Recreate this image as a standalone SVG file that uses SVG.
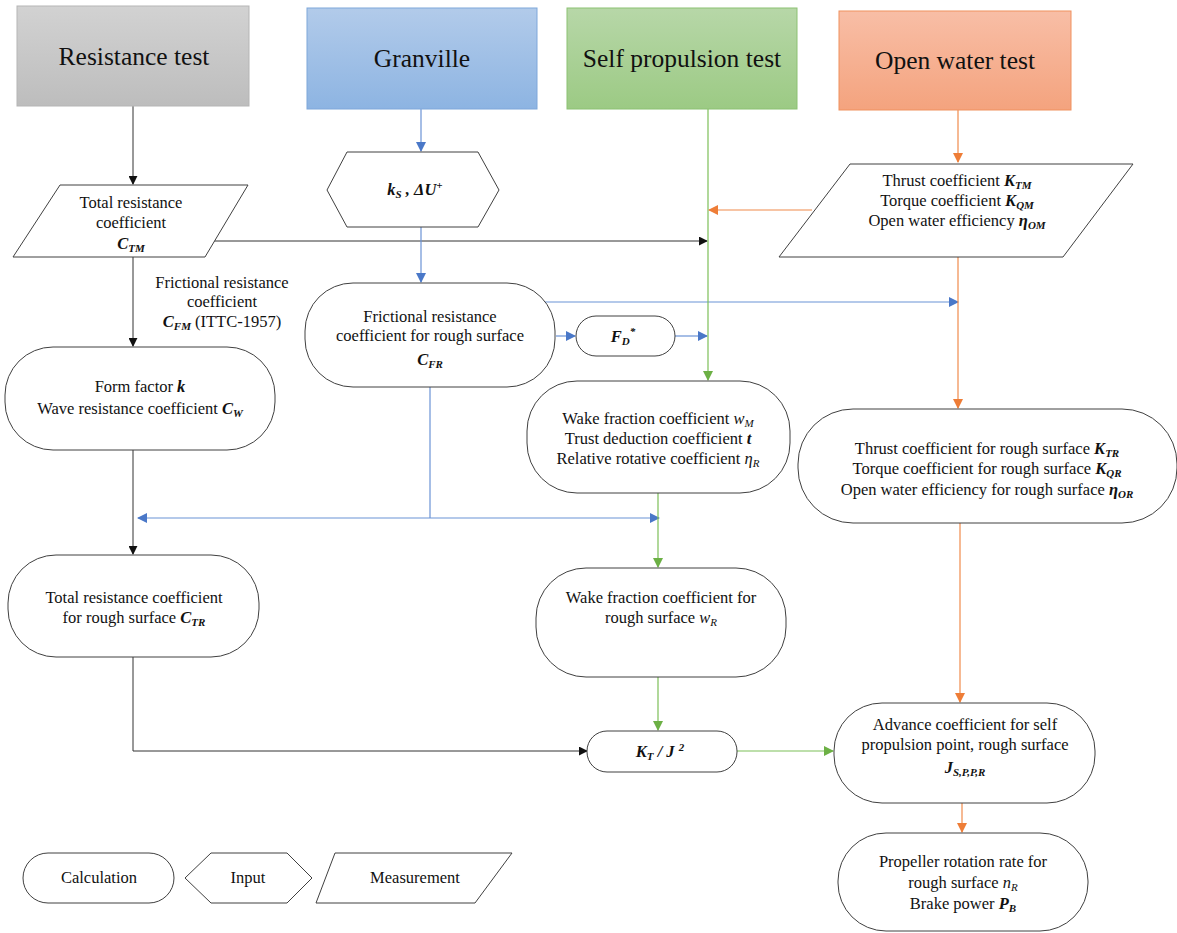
<svg xmlns="http://www.w3.org/2000/svg" width="1177" height="933" viewBox="0 0 1177 933">
<style>
text{font-family:"Liberation Serif","Times New Roman",serif;font-size:16.5px;fill:#111;text-anchor:middle}
.hd{font-size:25.5px}
.node{fill:#fff;stroke:#404040;stroke-width:1}
.m{font-style:italic;font-weight:bold}
.i{font-style:italic}
.s{font-size:11px}
.ck{stroke:#333;stroke-width:1;fill:none}
.cb{stroke:#6b93d6;stroke-width:1.2;fill:none}
.cg{stroke:#7cbf58;stroke-width:1.2;fill:none}
.co{stroke:#f08a4b;stroke-width:1.2;fill:none}
</style>
<defs>
<linearGradient id="gGray" x1="0" y1="0" x2="0" y2="1"><stop offset="0" stop-color="#d2d2d2"/><stop offset="1" stop-color="#bdbdbd"/></linearGradient>
<linearGradient id="gBlue" x1="0" y1="0" x2="0" y2="1"><stop offset="0" stop-color="#b2cbea"/><stop offset="1" stop-color="#8db4e2"/></linearGradient>
<linearGradient id="gGreen" x1="0" y1="0" x2="0" y2="1"><stop offset="0" stop-color="#b7d7a8"/><stop offset="1" stop-color="#9cca84"/></linearGradient>
<linearGradient id="gOrange" x1="0" y1="0" x2="0" y2="1"><stop offset="0" stop-color="#f8bea6"/><stop offset="1" stop-color="#f4a37e"/></linearGradient>
<marker id="ak" viewBox="0 0 10 10" refX="9" refY="5" markerWidth="9" markerHeight="9" orient="auto" markerUnits="userSpaceOnUse"><path d="M0,0 L10,5 L0,10 z" fill="#111"/></marker>
<marker id="ab" viewBox="0 0 10 10" refX="9" refY="5" markerWidth="10" markerHeight="10" orient="auto-start-reverse" markerUnits="userSpaceOnUse"><path d="M0,0 L10,5 L0,10 z" fill="#4a78c8"/></marker>
<marker id="ag" viewBox="0 0 10 10" refX="9" refY="5" markerWidth="10" markerHeight="10" orient="auto" markerUnits="userSpaceOnUse"><path d="M0,0 L10,5 L0,10 z" fill="#6cb045"/></marker>
<marker id="ao" viewBox="0 0 10 10" refX="9" refY="5" markerWidth="10" markerHeight="10" orient="auto" markerUnits="userSpaceOnUse"><path d="M0,0 L10,5 L0,10 z" fill="#ee7d37"/></marker>
</defs>

<g id="connectors">
<path class="ck" d="M133,106 V184" marker-end="url(#ak)"/>
<path class="ck" d="M214,241 H707" marker-end="url(#ak)"/>
<path class="ck" d="M133,257 V346" marker-end="url(#ak)"/>
<path class="ck" d="M133,450 V554" marker-end="url(#ak)"/>
<path class="ck" d="M133,657 V751 H587" marker-end="url(#ak)"/>
<path class="cb" d="M421,109 V151" marker-end="url(#ab)"/>
<path class="cb" d="M421,227 V282" marker-end="url(#ab)"/>
<path class="cb" d="M543,302 H958" marker-end="url(#ab)"/>
<path class="cb" d="M556,336 H575" marker-end="url(#ab)"/>
<path class="cb" d="M675,336 H707" marker-end="url(#ab)"/>
<path class="cb" d="M430,387 V518"/>
<path class="cb" d="M138,518 H659" marker-start="url(#ab)" marker-end="url(#ab)"/>
<path class="cg" d="M708,109 V380" marker-end="url(#ag)"/>
<path class="cg" d="M658,493 V567" marker-end="url(#ag)"/>
<path class="cg" d="M658,677 V730" marker-end="url(#ag)"/>
<path class="cg" d="M737,751 H833" marker-end="url(#ag)"/>
<path class="co" d="M958,110 V162" marker-end="url(#ao)"/>
<path class="co" d="M812,210 H709" marker-end="url(#ao)"/>
<path class="co" d="M958,257 V408" marker-end="url(#ao)"/>
<path class="co" d="M960,523 V702" marker-end="url(#ao)"/>
<path class="co" d="M962,803 V832" marker-end="url(#ao)"/>
</g>

<g id="h-resistance">
<rect x="17" y="6" width="232" height="100" fill="url(#gGray)" stroke="#b5b5b5"/>
<text class="hd" x="134" y="65">Resistance test</text>
</g>
<g id="h-granville">
<rect x="307" y="8" width="230" height="101" fill="url(#gBlue)" stroke="#7ea7da"/>
<text class="hd" x="422" y="67">Granville</text>
</g>
<g id="h-selfprop">
<rect x="567" y="8" width="230" height="101" fill="url(#gGreen)" stroke="#8cc173"/>
<text class="hd" x="682" y="67">Self propulsion test</text>
</g>
<g id="h-openwater">
<rect x="839" y="11" width="232" height="99" fill="url(#gOrange)" stroke="#f0915f"/>
<text class="hd" x="955" y="69">Open water test</text>
</g>

<g id="n-ctm">
<polygon class="node" points="60,185 248,185 205,257 13,257"/>
<text x="131" y="208">Total resistance</text>
<text x="131" y="228">coefficient</text>
<text x="131" y="249"><tspan class="m">C</tspan><tspan class="m s" dy="3">TM</tspan></text>
</g>

<g id="l-cfm">
<text x="222" y="288">Frictional resistance</text>
<text x="222" y="307">coefficient</text>
<text x="222" y="327"><tspan class="m">C</tspan><tspan class="m s" dy="3">FM</tspan><tspan dy="-3">  (ITTC-1957)</tspan></text>
</g>

<g id="n-formfactor">
<rect class="node" x="5" y="347" width="270" height="103" rx="48"/>
<text x="140" y="392">Form factor <tspan class="m">k</tspan></text>
<text x="140" y="414">Wave resistance coefficient <tspan class="m">C</tspan><tspan class="m s" dy="3">W</tspan></text>
</g>

<g id="n-ctr">
<rect class="node" x="8" y="555" width="251" height="102" rx="48"/>
<text x="134" y="603">Total resistance coefficient</text>
<text x="134" y="623">for rough surface <tspan class="m">C</tspan><tspan class="m s" dy="3">TR</tspan></text>
</g>

<g id="n-ks">
<polygon class="node" points="327,190 347,152 478,152 499,190 478,227 347,227"/>
<text x="415" y="195"><tspan class="m">k</tspan><tspan class="m s" dy="3">S</tspan><tspan class="m" dy="-3"> , ΔU</tspan><tspan class="m s" dy="-6">+</tspan></text>
</g>

<g id="n-cfr">
<rect class="node" x="305" y="283" width="250" height="104" rx="48"/>
<text x="430" y="322">Frictional resistance</text>
<text x="430" y="341">coefficient for rough surface</text>
<text x="430" y="365"><tspan class="m">C</tspan><tspan class="m s" dy="3">FR</tspan></text>
</g>

<g id="n-fd">
<rect class="node" x="576" y="316" width="99" height="40" rx="20"/>
<text x="623" y="342"><tspan class="m">F</tspan><tspan class="m s" dy="3">D</tspan><tspan class="m s" dy="-10">*</tspan></text>
</g>

<g id="n-wake">
<rect class="node" x="527" y="381" width="263" height="112" rx="50"/>
<text x="658" y="424">Wake fraction coefficient <tspan class="i">w</tspan><tspan class="i s" dy="3">M</tspan></text>
<text x="658" y="444">Trust deduction coefficient <tspan class="m">t</tspan></text>
<text x="658" y="464">Relative rotative coefficient <tspan class="i">η</tspan><tspan class="i s" dy="3">R</tspan></text>
</g>

<g id="n-wr">
<rect class="node" x="536" y="568" width="250" height="109" rx="50"/>
<text x="661" y="603">Wake fraction coefficient for</text>
<text x="661" y="623">rough surface <tspan class="i">w</tspan><tspan class="i s" dy="3">R</tspan></text>
</g>

<g id="n-kt">
<rect class="node" x="587" y="731" width="150" height="41" rx="20"/>
<text x="660" y="757"><tspan class="m">K</tspan><tspan class="m s" dy="3">T</tspan><tspan class="m" dy="-3"> / J </tspan><tspan class="m s" dy="-6">2</tspan></text>
</g>

<g id="n-ktm">
<polygon class="node" points="850,164 1133,164 1063,257 779,257"/>
<text x="957" y="186">Thrust coefficient <tspan class="m">K</tspan><tspan class="m s" dy="3">TM</tspan></text>
<text x="957" y="206">Torque coefficient <tspan class="m">K</tspan><tspan class="m s" dy="3">QM</tspan></text>
<text x="957" y="226">Open water efficiency <tspan class="m">η</tspan><tspan class="m s" dy="3">OM</tspan></text>
</g>

<g id="n-ktr">
<rect class="node" x="798" y="409" width="379" height="114" rx="55"/>
<text x="987" y="454">Thrust coefficient for rough surface <tspan class="m">K</tspan><tspan class="m s" dy="3">TR</tspan></text>
<text x="987" y="474">Torque coefficient for rough surface <tspan class="m">K</tspan><tspan class="m s" dy="3">QR</tspan></text>
<text x="987" y="495">Open water efficiency for rough surface <tspan class="m">η</tspan><tspan class="m s" dy="3">OR</tspan></text>
</g>

<g id="n-advance">
<rect class="node" x="834" y="703" width="261" height="100" rx="48"/>
<text x="965" y="730">Advance coefficient for self</text>
<text x="965" y="750">propulsion point, rough surface</text>
<text x="965" y="773"><tspan class="m">J</tspan><tspan class="m s" dy="3">S,P,P,R</tspan></text>
</g>

<g id="n-propeller">
<rect class="node" x="838" y="833" width="250" height="98" rx="48"/>
<text x="963" y="867">Propeller rotation rate for</text>
<text x="963" y="888">rough surface <tspan class="i">n</tspan><tspan class="i s" dy="3">R</tspan></text>
<text x="963" y="909">Brake power <tspan class="m">P</tspan><tspan class="m s" dy="3">B</tspan></text>
</g>

<g id="legend-calculation">
<rect class="node" x="23" y="853" width="151" height="50" rx="25"/>
<text x="99" y="883">Calculation</text>
</g>
<g id="legend-input">
<polygon class="node" points="185,878 211,853 287,853 312,878 287,903 211,903"/>
<text x="248" y="883">Input</text>
</g>
<g id="legend-measurement">
<polygon class="node" points="335,853 512,853 475,903 316,903"/>
<text x="415" y="883">Measurement</text>
</g>
</svg>
